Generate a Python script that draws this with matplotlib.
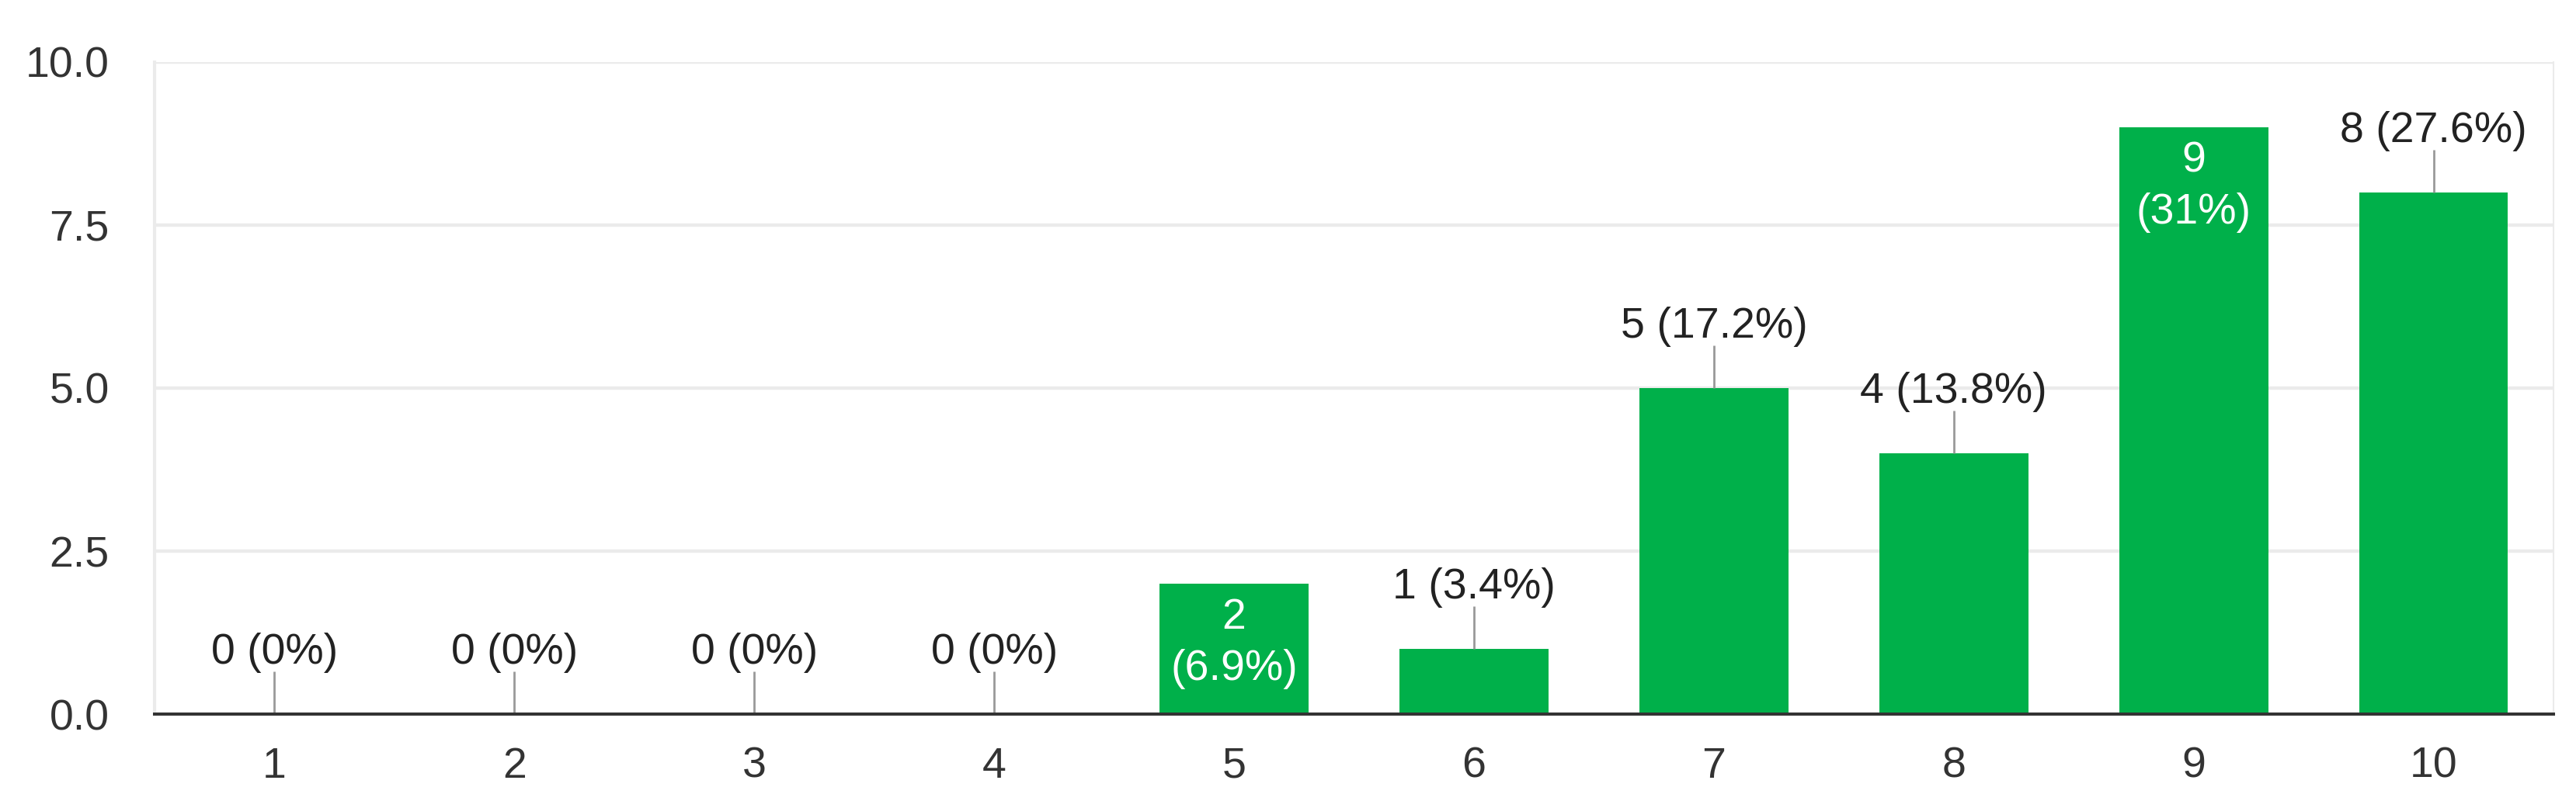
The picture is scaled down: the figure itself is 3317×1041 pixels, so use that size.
import matplotlib
matplotlib.use('Agg')
import matplotlib.pyplot as plt

SCORES = [1, 2, 3, 4, 5, 6, 7, 8, 9, 10]
COUNTS = [0, 0, 0, 0, 2, 1, 5, 4, 9, 8]
INSIDE_LABELS = [5, 9]
Y_TICKS = [0.0, 2.5, 5.0, 7.5, 10.0]

BAR_COLOR = '#00b04a'
GRID_COLOR = '#ebebeb'
TEXT_COLOR = '#222222'
TICK_COLOR = '#333333'


def pct_label(count, total):
    pct = round(100.0 * count / total, 1)
    return f'{pct:g}%'


def main():
    plt.rcParams['font.family'] = ['Liberation Sans', 'DejaVu Sans']

    fig = plt.figure(figsize=(33.17, 10.41), dpi=100)
    ax = fig.add_axes([0.060, 0.1162, 0.9313, 0.807])

    total = sum(COUNTS)
    ax.bar(SCORES, COUNTS, width=0.62, color=BAR_COLOR, zorder=2)

    ax.set_xlim(0.5, 10.5)
    ax.set_ylim(0, 10)
    ax.set_xticks(SCORES)
    ax.set_xticklabels([str(s) for s in SCORES])
    ax.set_yticks(Y_TICKS)
    ax.set_yticklabels([f'{t:.1f}' for t in Y_TICKS])
    ax.tick_params(axis='both', length=0, labelsize=40, labelcolor=TICK_COLOR)
    ax.tick_params(axis='x', pad=30)
    ax.tick_params(axis='y', pad=42)

    ax.yaxis.grid(True, color=GRID_COLOR, linewidth=3.2, zorder=0)
    ax.set_axisbelow(True)
    ax.spines['top'].set_visible(False)
    ax.spines['left'].set_color(GRID_COLOR)
    ax.spines['left'].set_linewidth(3.0)
    ax.spines['right'].set_color(GRID_COLOR)
    ax.spines['right'].set_linewidth(1.5)
    ax.spines['bottom'].set_color('#333333')
    ax.spines['bottom'].set_linewidth(2.9)
    ax.spines['bottom'].set_zorder(3)

    stem = 0.655
    for score, count in zip(SCORES, COUNTS):
        pct = pct_label(count, total)
        if score in INSIDE_LABELS:
            ax.annotate(
                f'{count}\n({pct})',
                xy=(score, count),
                xytext=(0, -18),
                textcoords='offset pixels',
                ha='center', va='top',
                fontsize=40, color='white',
                linespacing=1.35,
                zorder=4
            )
        else:
            ax.vlines(score, count, count + stem, color='#999999',
                      linewidth=2.0, zorder=3)
            ax.annotate(
                f'{count} ({pct})',
                xy=(score, count + stem),
                xytext=(0, 10),
                textcoords='offset pixels',
                ha='center', va='baseline',
                fontsize=40, color=TEXT_COLOR,
                zorder=4
            )

    fig.savefig('out.png', dpi=100)


if __name__ == '__main__':
    main()
